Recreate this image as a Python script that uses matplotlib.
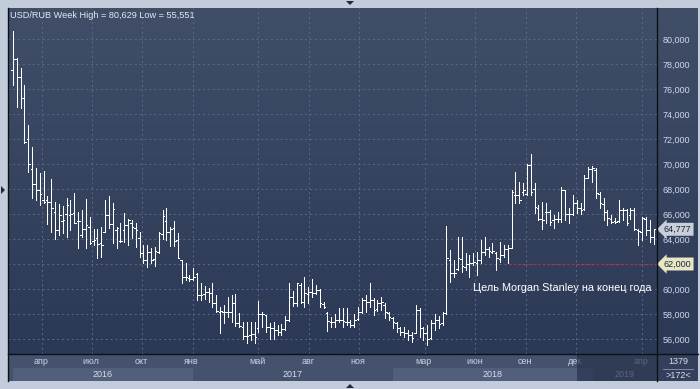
import numpy as np
import pandas as pd
import matplotlib
matplotlib.use("Agg")
import matplotlib.pyplot as plt
import matplotlib.dates as mdates
from matplotlib.patches import Rectangle, Polygon
from matplotlib.lines import Line2D
from matplotlib.transforms import blended_transform_factory

plt.rcParams['font.family'] = ['Liberation Sans', 'DejaVu Sans']

# weekly USD/RUB bars
first_week = "2016-02-08"
opens = [77.5, 78.4, 77.0, 75.3, 72.0, 69.6, 68.4, 67.9, 67.1, 67.1,
         67.0, 66.2, 64.7, 65.4, 66.0, 65.9, 66.05, 65.4, 64.3, 64.8,
         65.0, 63.85, 64.05, 63.7, 64.6, 65.9, 65.2, 64.7, 63.85, 64.7,
         65.1, 65.25, 64.85, 64.05, 62.85, 62.3, 63.0, 62.4, 63.0, 64.4,
         65.4, 64.6, 64.85, 63.9, 62.3, 61.0, 60.9, 60.8, 61.2, 59.5,
         59.6, 59.8, 59.7, 58.85, 58.2, 58.2, 58.2, 58.2, 58.9, 57.3,
         57.0, 56.2, 56.3, 56.4, 56.91, 58.0, 57.9, 57.0, 56.85, 56.7,
         56.6, 56.8, 57.5, 59.4, 58.9, 60.3, 59.0, 59.6, 59.8, 59.7,
         59.9, 58.8, 58.1, 57.4, 57.4, 57.5, 57.5, 57.4, 57.4, 57.1,
         57.6, 58.2, 59.1, 59.0, 59.1, 58.4, 58.9, 58.7, 58.1, 57.7,
         57.3, 56.9, 56.6, 56.5, 56.3, 56.5, 58.3, 56.9, 56.5, 56.1,
         57.3, 57.5, 57.3, 58.05, 62.3, 61.3, 61.6, 62.4, 61.8, 62.0,
         62.1, 62.1, 62.3, 63.0, 63.2, 63.0, 62.9, 62.4, 62.7, 63.2,
         63.3, 67.5, 67.5, 67.8, 67.6, 69.9, 68.0, 66.5, 65.6, 66.2,
         66.2, 65.5, 65.6, 65.6, 67.92, 66.0, 66.0, 66.9, 66.5, 66.4,
         68.9, 69.6, 69.5, 67.6, 66.8, 66.2, 65.6, 65.4, 65.4, 66.3,
         66.3, 65.9, 66.3, 64.7, 64.6, 65.6, 64.7, 64.2]
highs = [80.629, 78.45, 77.65, 76.3, 73.1, 71.4, 69.65, 69.25, 69.45, 67.4,
         68.8, 67.0, 66.8, 66.65, 67.25, 67.1, 67.65, 66.2, 66.3, 67.2,
         65.8, 64.8, 64.8, 65.0, 67.1, 67.45, 66.85, 65.0, 65.3, 66.05,
         65.6, 65.5, 65.3, 64.6, 63.52, 63.52, 63.25, 63.4, 64.6, 66.3,
         66.5, 65.0, 65.47, 64.45, 62.35, 62.05, 61.12, 61.65, 61.25, 60.45,
         60.24, 60.05, 60.45, 59.52, 58.59, 58.72, 59.39, 59.52, 59.6, 58.11,
         57.39, 57.39, 57.39, 57.39, 59.04, 58.19, 57.92, 57.25, 57.39, 57.12,
         57.2, 57.84, 60.45, 59.87, 60.51, 60.45, 60.93, 60.19, 60.77, 60.32,
         59.97, 58.99, 58.19, 57.79, 58.0, 58.45, 58.45, 58.45, 57.52, 58.0,
         58.59, 59.25, 59.52, 60.51, 59.25, 59.12, 59.33, 58.85, 58.19, 57.75,
         57.35, 56.99, 56.99, 56.72, 56.59, 58.72, 58.45, 56.95, 57.12, 57.52,
         58.0, 57.85, 58.19, 65.04, 63.12, 62.32, 64.19, 64.19, 62.85, 62.72,
         62.85, 62.99, 63.92, 64.19, 63.39, 63.65, 62.99, 63.79, 63.52, 63.52,
         67.92, 69.39, 68.59, 68.45, 70.0, 70.8, 68.45, 66.7, 66.99, 66.85,
         66.32, 65.92, 66.19, 68.19, 67.95, 66.45, 67.52, 67.12, 66.9, 69.12,
         69.79, 69.85, 69.65, 67.79, 67.25, 66.3, 65.92, 65.7, 67.12, 66.45,
         66.4, 66.45, 66.45, 64.77, 65.79, 65.79, 65.52, 64.77]
lows = [76.3, 74.6, 74.45, 71.7, 69.4, 67.25, 67.1, 66.7, 66.85, 65.2,
        64.6, 63.97, 64.3, 64.45, 64.2, 64.7, 65.25, 63.25, 64.2, 63.3,
        63.6, 63.5, 62.5, 62.6, 64.55, 64.85, 63.65, 63.3, 63.8, 63.8,
        63.5, 64.05, 63.4, 62.6, 62.05, 61.75, 62.05, 61.85, 62.9, 63.97,
        63.92, 63.45, 63.44, 62.45, 60.45, 60.72, 60.67, 60.72, 59.12, 59.12,
        59.17, 58.99, 58.59, 58.19, 56.51, 57.25, 57.79, 57.39, 57.04, 56.99,
        55.97, 55.71, 55.92, 55.65, 56.59, 56.99, 56.59, 55.97, 55.97, 56.32,
        56.32, 56.72, 57.45, 58.64, 58.64, 58.85, 58.59, 58.85, 59.39, 59.6,
        58.59, 58.45, 56.67, 56.99, 56.99, 57.39, 56.99, 57.12, 56.93, 56.99,
        57.52, 58.11, 58.19, 58.59, 57.92, 58.27, 58.32, 57.65, 57.52, 56.85,
        56.59, 56.32, 56.19, 55.92, 55.79, 56.45, 56.19, 55.92, 55.551, 56.0,
        56.72, 56.85, 57.12, 58.0, 60.59, 60.99, 61.52, 61.39, 61.52, 60.99,
        61.92, 61.12, 62.05, 62.72, 62.59, 62.85, 61.52, 62.19, 62.6, 62.05,
        63.25, 66.85, 66.85, 67.52, 67.52, 67.52, 66.05, 65.52, 64.77, 65.3,
        65.12, 64.85, 65.39, 65.39, 65.52, 65.25, 65.92, 66.05, 66.0, 66.32,
        68.85, 68.59, 67.25, 66.45, 65.52, 65.12, 65.25, 65.25, 65.39, 65.52,
        65.12, 65.6, 64.72, 63.52, 63.92, 64.32, 63.79, 63.59]
closes = [78.4, 77.0, 75.3, 71.8, 70.0, 68.4, 67.9, 67.6, 67.0, 67.0,
          66.45, 64.7, 65.9, 65.5, 66.7, 66.0, 65.3, 65.4, 64.8, 65.1,
          63.65, 63.9, 63.6, 63.5, 65.9, 65.2, 66.4, 64.9, 63.85, 65.1,
          65.5, 65.0, 64.7, 62.85, 62.3, 63.0, 62.3, 63.05, 64.45, 65.85,
          64.6, 64.8, 63.87, 62.5, 61.0, 61.0, 60.8, 61.0, 59.52, 59.52,
          59.79, 59.7, 58.85, 58.25, 58.24, 58.2, 58.15, 58.9, 57.31, 57.05,
          56.24, 56.24, 56.4, 56.19, 58.0, 57.97, 56.99, 56.85, 56.72, 56.59,
          56.77, 57.52, 59.39, 58.85, 60.45, 58.99, 59.65, 59.79, 59.65, 59.92,
          58.85, 58.59, 57.44, 57.39, 57.52, 57.52, 57.44, 57.39, 57.12, 57.52,
          58.19, 59.12, 58.99, 59.12, 58.32, 58.85, 58.99, 58.19, 57.79, 57.39,
          56.85, 56.59, 56.51, 56.32, 56.1, 58.32, 56.9, 56.5, 56.0, 57.3,
          57.5, 57.2, 58.05, 62.45, 61.31, 61.25, 62.45, 61.84, 62.0, 62.1,
          62.15, 62.3, 62.99, 63.2, 63.05, 63.05, 62.45, 62.7, 63.2, 63.3,
          67.79, 67.52, 67.12, 67.9, 69.92, 67.8, 66.59, 65.6, 65.52, 66.19,
          65.39, 65.6, 65.6, 67.92, 66.0, 66.0, 66.9, 66.5, 66.3, 68.85,
          69.6, 69.65, 67.65, 66.85, 66.19, 65.65, 65.39, 65.39, 66.32, 66.32,
          65.25, 66.32, 64.77, 64.67, 65.65, 64.72, 64.19, 64.777]
weeks = pd.date_range(first_week, periods=len(closes), freq="7D")

month_dates = ["2016-04-01", "2016-07-01", "2016-10-01", "2017-01-01",
               "2017-05-01", "2017-08-01", "2017-11-01", "2018-03-01",
               "2018-06-01", "2018-09-01", "2018-12-01", "2019-04-01"]
month_labels = ["апр", "июл", "окт", "янв", "май", "авг", "ноя", "мар",
                "июн", "сен", "дек", "апр"]
years = ["2016", "2017", "2018", "2019"]
year_starts = ["2016-01-01", "2017-01-01", "2018-01-01", "2019-01-01"]
price_ticks = [56, 58, 60, 62, 64, 66, 68, 70, 72, 74, 76, 78, 80]
target_price = 62.0
target_from = "2018-08-01"
target_text = "Цель Morgan Stanley на конец года"
bars_total = "1379"
bars_shown = ">172<"


def fmt(v):
    return f"{v:.3f}".replace(".", ",")


W, H = 700, 389


def fx(px):
    return px / W


def fy(py):
    return 1 - py / H


fig = plt.figure(figsize=(7, 3.89), dpi=100, facecolor="#c2ccda")

# gradient behind plot + right price panel
bg = fig.add_axes([fx(8), fy(354), fx(698) - fx(8), fy(8) - fy(354)])
top = np.array([64, 78, 104]) / 255
bot = np.array([44, 57, 86]) / 255
t = np.linspace(0, 1, 256).reshape(-1, 1, 1)
bg.imshow(top + (bot - top) * t, aspect="auto", extent=[0, 1, 0, 1])
bg.axis("off")

ax = fig.add_axes([fx(8), fy(354), fx(657) - fx(8), fy(8) - fy(354)])
ax.patch.set_alpha(0)
px_per_day = 600 / 1095
x_apr = mdates.date2num(pd.Timestamp("2016-04-01"))
x0 = x_apr - 34 / px_per_day
x1 = x_apr + 1095 + 15 / px_per_day
ax.set_xlim(x0, x1)
ax.set_ylim(54.8, 82.48)

ax.set_xticks(mdates.date2num(pd.to_datetime(month_dates)))
ax.set_yticks(price_ticks)
ax.set_yticklabels([fmt(v) for v in price_ticks])
ax.grid(color="#5a6988", ls=(0, (2, 3)), lw=0.7)
ax.tick_params(axis="x", length=0, labelbottom=False)
ax.yaxis.tick_right()
ax.tick_params(axis="y", length=0, pad=4, labelsize=6.5, labelcolor="#cdd8ea")
for s in ax.spines.values():
    s.set_visible(False)

xs = mdates.date2num(weeks)
ax.vlines(xs, lows, highs, color="white", lw=0.5, antialiased=False)
ax.hlines(opens, xs - 2.8, xs, color="white", lw=0.5, antialiased=False)
ax.hlines(closes, xs, xs + 2.8, color="white", lw=0.5, antialiased=False)

ax.hlines(target_price, mdates.date2num(pd.Timestamp(target_from)), x1,
          color="#b8283c", lw=1.0, ls=(0, (1.5, 1.5)))
blend = blended_transform_factory(ax.transAxes, ax.transData)
ax.text(0.991, 60.1, target_text, transform=blend, ha="right", va="center",
        color="white", fontsize=7.8)

for price, fc in [(closes[-1], "#c9ced7"), (target_price, "#e9e6c4")]:
    ax.annotate(fmt(price), xy=(1, price), xycoords=blend, xytext=(5, 0),
                textcoords="offset points", ha="left", va="center",
                fontsize=6.5, color="#1c2640",
                bbox=dict(boxstyle="larrow,pad=0.22", fc=fc, ec="none"))

# date band
bax = fig.add_axes([fx(8), fy(381), fx(657) - fx(8), fy(354) - fy(381)])
bax.set_facecolor("#44526e")
bax.set_xlim(x0, x1)
bax.set_ylim(0, 1)
bax.set_xticks([])
bax.set_yticks([])
for s in bax.spines.values():
    s.set_visible(False)
ystart = [mdates.date2num(pd.Timestamp(d)) for d in year_starts]
ystart[0] = xs[0]
yend = ystart[1:] + [x1]
for i, yr in enumerate(years):
    if i % 2 == 0:
        bax.axvspan(ystart[i], yend[i], ymin=0, ymax=0.48, color="#515f7c", lw=0)
    bax.text((ystart[i] + yend[i]) / 2, 0.25, yr, ha="center", va="center",
             fontsize=6.5, color="#d6deea")
for d, lab in zip(month_dates, month_labels):
    bax.text(mdates.date2num(pd.Timestamp(d)) - 2, 0.72, lab, ha="center",
             va="center", fontsize=6.5, color="#c8d2e2")
bax.add_patch(Rectangle((0.876, 0), 0.124, 1, transform=bax.transAxes,
                        fc="#28334d", alpha=0.7, lw=0, zorder=5))

# corner box
fig.patches.append(Rectangle((fx(657), fy(381)), fx(698) - fx(657), fy(354) - fy(381),
                             transform=fig.transFigure, fc="#34405b", lw=0))
fig.text(fx(678), fy(362), bars_total, ha="center", va="center", fontsize=6.5, color="#d6deea")
fig.text(fx(678), fy(375), bars_shown, ha="center", va="center", fontsize=6.5, color="#d6deea")
fig.lines.append(Line2D([fx(663), fx(693)], [fy(368.5)] * 2, transform=fig.transFigure,
                        color="#8a97ad", lw=0.6))

# dark frame lines
for xa, ya in [([8, 8], [8, 381]), ([657, 657], [8, 381]), ([8, 698], [354, 354])]:
    fig.lines.append(Line2D([fx(v) for v in xa], [fy(v) for v in ya],
                            transform=fig.transFigure, color="#0b1019", lw=1))

# small scroll arrows on the frame
for pts in [[(346, 1), (354, 1), (350, 5)], [(346, 388), (354, 388), (350, 384)],
            [(1, 186), (1, 194), (5, 190)]]:
    fig.patches.append(Polygon([(fx(a), fy(b)) for a, b in pts], closed=True,
                               transform=fig.transFigure, fc="#222a38", lw=0))

title = f"USD/RUB Week High = {fmt(max(highs))} Low = {fmt(min(lows))}"
fig.text(fx(10), fy(15), title, fontsize=6.6, color="#e4eaf4", va="center")

fig.savefig("out.png", dpi=100, facecolor=fig.get_facecolor())
